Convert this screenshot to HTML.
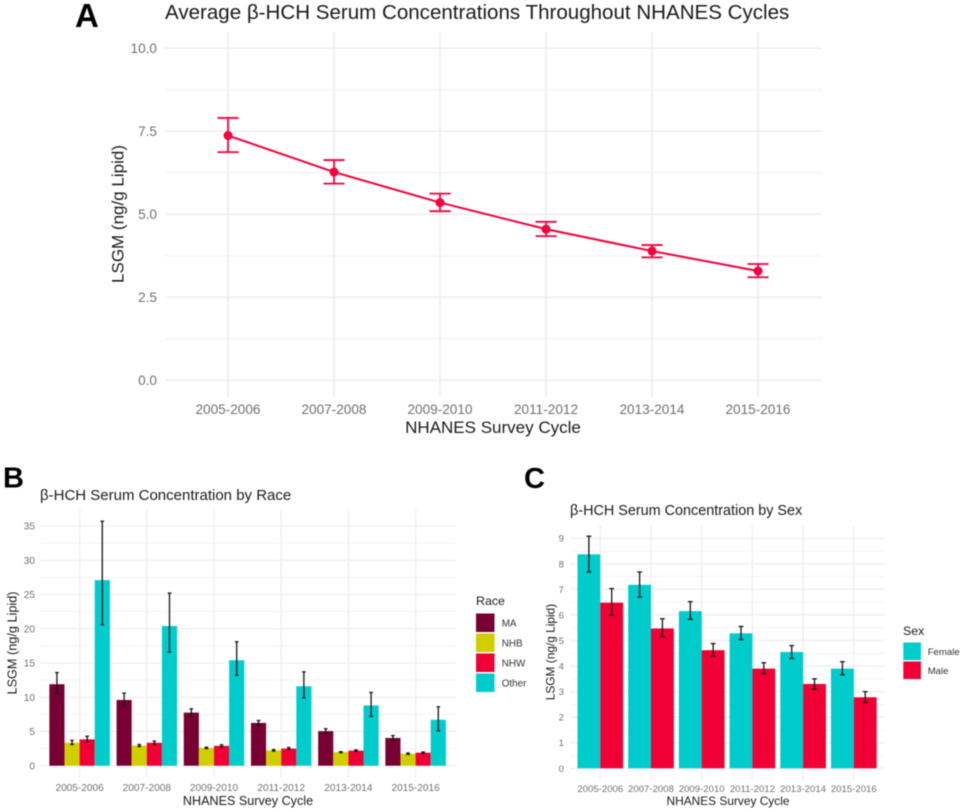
<!DOCTYPE html>
<html>
<head>
<meta charset="utf-8">
<title>β-HCH Serum Concentrations</title>
<style>
html,body{margin:0;padding:0;background:#fff;width:962px;height:812px;overflow:hidden}
svg{display:block;filter:blur(0.4px)}
text{font-family:"Liberation Sans",sans-serif}
</style>
</head>
<body>
<svg id="fig" width="962" height="812" viewBox="0 0 962 812" xmlns="http://www.w3.org/2000/svg">
  <rect width="962" height="812" fill="#fff"/>
  <g id="panelA"></g>
  <g id="panelB"></g>
  <g id="panelC"></g>

  <text x="75" y="27" font-size="33" font-weight="700" fill="#000">A</text>
  <text x="3" y="487.5" font-size="29" font-weight="700" fill="#000">B</text>
  <text x="524" y="488" font-size="29" font-weight="700" fill="#000">C</text>

  <text x="165" y="19" font-size="20.55" fill="#1a1a1a">Average β-HCH Serum Concentrations Throughout NHANES Cycles</text>
  <text x="493" y="433" font-size="17" fill="#1a1a1a" text-anchor="middle">NHANES Survey Cycle</text>
  <text transform="translate(123.5 214) rotate(-90)" font-size="17" fill="#1a1a1a" text-anchor="middle">LSGM (ng/g Lipid)</text>

  <text x="40" y="500" font-size="15" fill="#1a1a1a">β-HCH Serum Concentration by Race</text>
  <text x="248" y="805" font-size="12.6" fill="#1a1a1a" text-anchor="middle">NHANES Survey Cycle</text>
  <text transform="translate(16.5 643) rotate(-90)" font-size="12.7" fill="#1a1a1a" text-anchor="middle">LSGM (ng/g Lipid)</text>
  <text x="476" y="605" font-size="12.4" fill="#1a1a1a">Race</text>

  <text x="570" y="515" font-size="14.4" fill="#1a1a1a">β-HCH Serum Concentration by Sex</text>
  <text x="728" y="805" font-size="11.9" fill="#1a1a1a" text-anchor="middle">NHANES Survey Cycle</text>
  <text transform="translate(554.5 652) rotate(-90)" font-size="11.9" fill="#1a1a1a" text-anchor="middle">LSGM (ng/g Lipid)</text>
  <text x="903" y="635" font-size="12.4" fill="#1a1a1a">Sex</text>
</svg>

<script>
// ---------- shared category data ----------
const cycles = ["2005-2006","2007-2008","2009-2010","2011-2012","2013-2014","2015-2016"];

// ---------- panel A data ----------
const overallMean = [7.37,6.27,5.35,4.55,3.89,3.29];
const overallHigh = [7.90,6.63,5.62,4.77,4.07,3.50];
const overallLow  = [6.87,5.92,5.09,4.34,3.70,3.10];
const overallTicks = [0,2.5,5,7.5,10];
const overallMinorTicks = [1.25,3.75,6.25,8.75];

// ---------- panel B data ----------
const raceNames = ["MA","NHB","NHW","Other"];
const maMean = [11.9,9.6,7.75,6.25,5.05,4.05];
const maHigh = [13.6,10.6,8.3,6.6,5.4,4.4];
const maLow  = [10.5,8.7,7.2,5.9,4.7,3.7];
const nhbMean = [3.35,2.95,2.6,2.25,2.0,1.75];
const nhbHigh = [3.7,3.1,2.7,2.35,2.05,1.85];
const nhbLow  = [3.1,2.8,2.5,2.15,1.9,1.65];
const nhwMean = [3.85,3.35,2.9,2.5,2.2,1.9];
const nhwHigh = [4.3,3.6,3.05,2.65,2.3,2.0];
const nhwLow  = [3.5,3.15,2.75,2.4,2.1,1.8];
const otherMean = [27.1,20.4,15.4,11.6,8.8,6.7];
const otherHigh = [35.7,25.2,18.1,13.7,10.7,8.6];
const otherLow  = [20.6,16.6,13.2,9.9,7.2,5.1];
const raceTicks = [0,5,10,15,20,25,30,35];
const raceMinorTicks = [2.5,7.5,12.5,17.5,22.5,27.5,32.5];

// ---------- panel C data ----------
const sexNames = ["Female","Male"];
const femaleMean = [8.37,7.18,6.15,5.28,4.55,3.90];
const femaleHigh = [9.08,7.68,6.52,5.55,4.80,4.17];
const femaleLow  = [7.68,6.70,5.83,5.03,4.30,3.66];
const maleMean = [6.48,5.47,4.62,3.90,3.30,2.78];
const maleHigh = [7.03,5.85,4.88,4.13,3.50,3.00];
const maleLow  = [5.99,5.15,4.38,3.70,3.10,2.57];
const sexTicks = [0,1,2,3,4,5,6,7,8,9];
const sexMinorTicks = [0.5,1.5,2.5,3.5,4.5,5.5,6.5,7.5,8.5];

const NS = "http://www.w3.org/2000/svg";
function mk(parent, tag, props, txt){
  const el = document.createElementNS(NS, tag);
  for (const k in props) el.setAttribute(k, props[k]);
  if (txt !== undefined) el.textContent = txt;
  parent.appendChild(el);
  return el;
}
function slug(s){ return String(s).toLowerCase().replace(/[^a-z0-9]+/g,'-'); }
function linear(d0, r0, pxPerUnit){ return v => r0 + (v - d0) * pxPerUnit; }

function drawFrame(g, prefix, box, xScale, yScale, ticks, minor, fmt, style){
  minor.forEach(t => {
    const el = mk(g,'line',{x1:box.left,x2:box.right,y1:yScale(t),y2:yScale(t),stroke:'#f2f2f2','stroke-width':style.minorW});
    
    
  });
  ticks.forEach(t => {
    const el = mk(g,'line',{x1:box.left,x2:box.right,y1:yScale(t),y2:yScale(t),stroke:'#eeeeee','stroke-width':style.majorW});
    
    
    const lb = mk(g,'text',{x:style.yLabelX,y:yScale(t)+style.fs*0.36,'text-anchor':'end','font-size':style.fs,fill:'#707070'},fmt(t));
    
    
  });
  cycles.forEach((c,i) => {
    const el = mk(g,'line',{x1:xScale(i),x2:xScale(i),y1:box.top,y2:box.bottom,stroke:'#eeeeee','stroke-width':style.majorW});
    
    
    const lb = mk(g,'text',{x:xScale(i),y:style.xLabelY,'text-anchor':'middle','font-size':style.fs,fill:'#707070'},c);
    
    
  });
}

function drawErr(g, name, x, yHi, yLo, cap, color, w){
  const stem = mk(g,'line',{x1:x,x2:x,y1:yHi,y2:yLo,stroke:color,'stroke-width':w});
  
  
  [yHi,yLo].forEach(y => {
    const c = mk(g,'line',{x1:x-cap,x2:x+cap,y1:y,y2:y,stroke:color,'stroke-width':w});
    
    
  });
}

function drawBars(g, xScale, yScale, step, series, cap, errW){
  const total = step * 0.9, w = total / series.length;
  series.forEach((s,si) => {
    s.mean.forEach((v,i) => {
      const x = xScale(i) - total/2 + si*w;
      const b = mk(g,'rect',{x:x,y:yScale(v),width:w,height:yScale(0)-yScale(v),fill:s.color});
      
      
    });
  });
  series.forEach((s,si) => {
    s.mean.forEach((v,i) => {
      const x = xScale(i) - total/2 + (si+0.5)*w;
      drawErr(g, slug(s.name) + '-' + cycles[i], x, yScale(s.high[i]), yScale(s.low[i]), cap, '#151515', errW);
    });
  });
}

function drawLegend(g, names, colors, x, y0, size, gap, labelX, fs){
  names.forEach((n,i) => {
    const y = y0 + i*gap;
    const key = mk(g,'rect',{x:x,y:y,width:size,height:size,fill:colors[i]});
    
    
    const lb = mk(g,'text',{x:labelX,y:y+size/2+fs*0.36,'font-size':fs,fill:'#333'},n);
    
    
  });
}

// ---------- Panel A ----------
(function(){
  const g = document.getElementById('panelA');
  const x = linear(0, 228, 106);
  const y = linear(0, 380.2, -33.2);
  drawFrame(g,'panel-a',{left:165,right:822,top:32,bottom:397},x,y,overallTicks,overallMinorTicks,t=>t.toFixed(1),
    {minorW:1.1,majorW:1.7,fs:13.6,yLabelX:157,xLabelY:414});
  const color = '#f5003c';
  const pts = overallMean.map((v,i)=>x(i)+','+y(v)).join(' ');
  const line = mk(g,'polyline',{points:pts,fill:'none',stroke:color,'stroke-width':2});
  
  
  overallMean.forEach((v,i) => {
    drawErr(g,'overall-'+cycles[i],x(i),y(overallHigh[i]),y(overallLow[i]),10.5,color,1.8);
    const p = mk(g,'circle',{cx:x(i),cy:y(v),r:4.5,fill:color});
    
    
  });
})();

// ---------- Panel B ----------
(function(){
  const g = document.getElementById('panelB');
  const step = 67.2;
  const x = linear(0, 79.6, step);
  const y = linear(0, 765.7, -6.848);
  drawFrame(g,'panel-b',{left:40,right:456,top:509,bottom:778},x,y,raceTicks,raceMinorTicks,t=>String(t),
    {minorW:.9,majorW:1.3,fs:10.1,yLabelX:35,xLabelY:791});
  const colors = ['#780032','#cfcf00','#f00035','#00cccc'];
  drawBars(g,x,y,step,[
    {name:raceNames[0],color:colors[0],mean:maMean,high:maHigh,low:maLow},
    {name:raceNames[1],color:colors[1],mean:nhbMean,high:nhbHigh,low:nhbLow},
    {name:raceNames[2],color:colors[2],mean:nhwMean,high:nhwHigh,low:nhwLow},
    {name:raceNames[3],color:colors[3],mean:otherMean,high:otherHigh,low:otherLow}
  ],1.8,1.3);
  drawLegend(g,raceNames,colors,476,613.5,18.5,20,501.7,9.9);
})();

// ---------- Panel C ----------
(function(){
  const g = document.getElementById('panelC');
  const step = 50.7;
  const x = linear(0, 600.3, step);
  const y = linear(0, 768.3, -25.56);
  drawFrame(g,'panel-c',{left:570,right:885,top:525,bottom:780},x,y,sexTicks,sexMinorTicks,t=>String(t),
    {minorW:.9,majorW:1.3,fs:9.6,yLabelX:564,xLabelY:792});
  const colors = ['#00cccc','#f00035'];
  drawBars(g,x,y,step,[
    {name:sexNames[0],color:colors[0],mean:femaleMean,high:femaleHigh,low:femaleLow},
    {name:sexNames[1],color:colors[1],mean:maleMean,high:maleHigh,low:maleLow}
  ],2.4,1.3);
  drawLegend(g,sexNames,colors,903.3,642.5,17.6,19,927.7,9.6);
})();
</script>
</body>
</html>
